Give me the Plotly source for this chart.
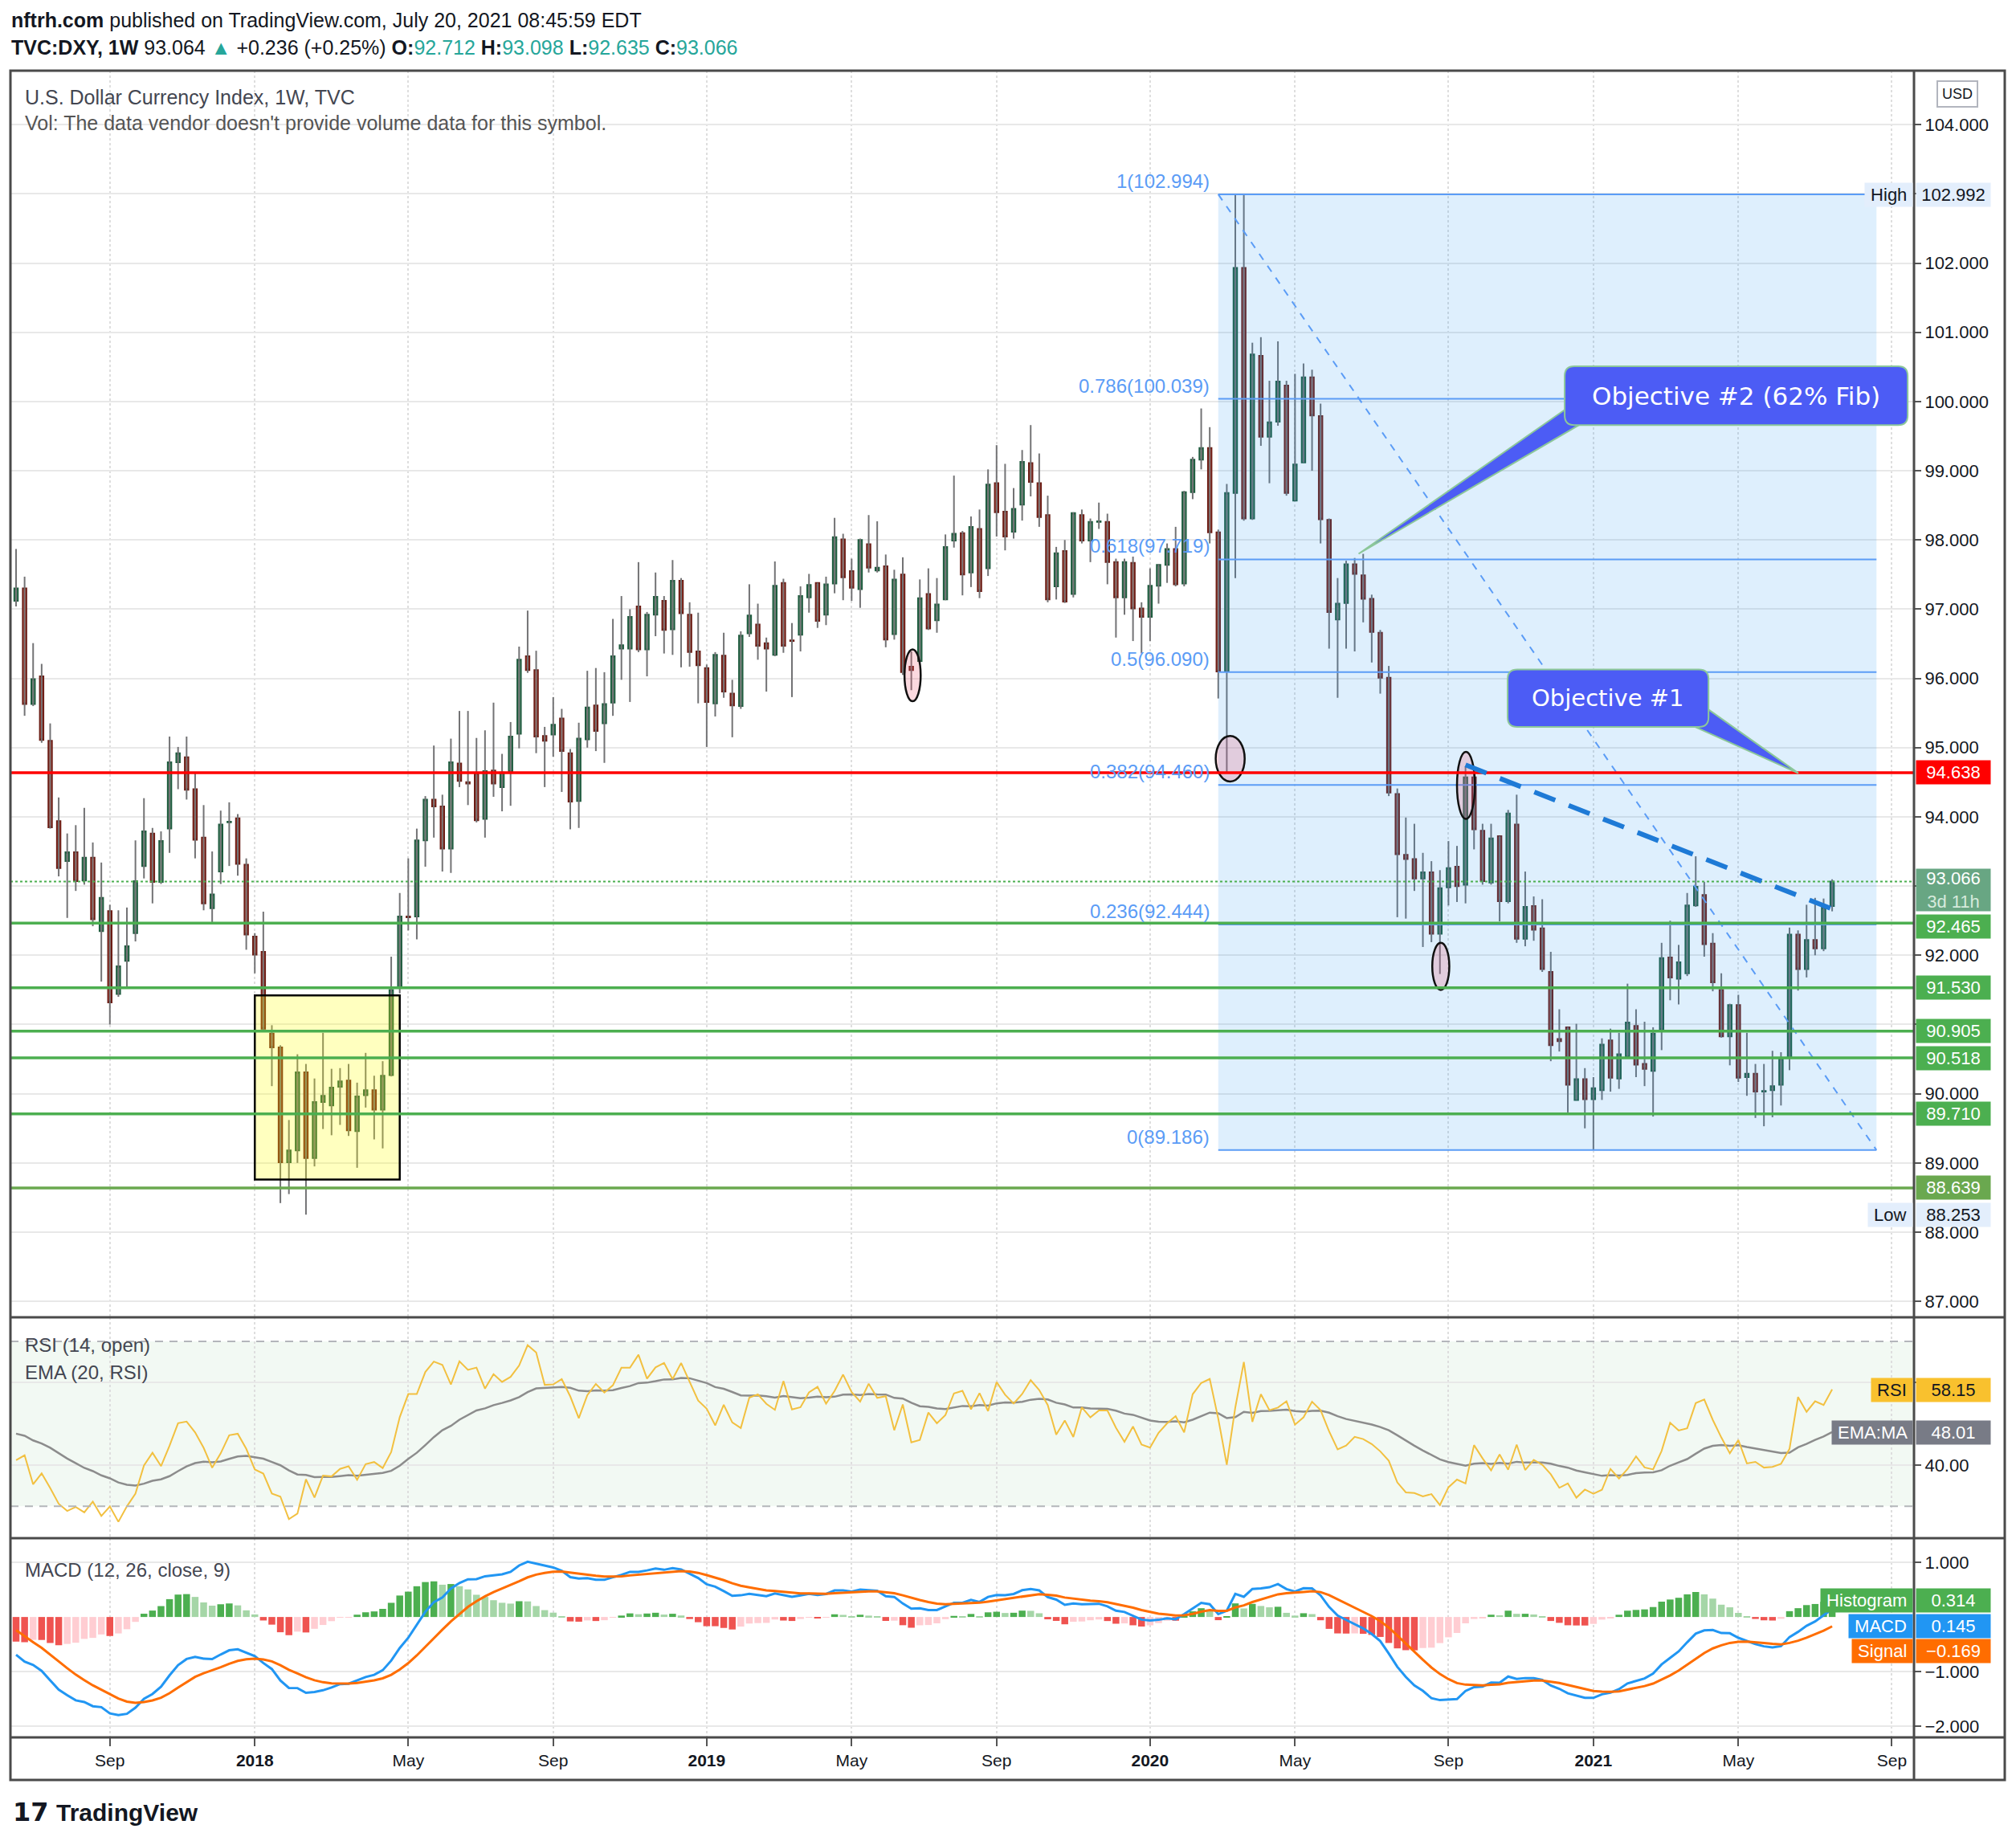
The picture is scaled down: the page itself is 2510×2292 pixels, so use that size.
import numpy as np
import plotly.graph_objects as go
from plotly.subplots import make_subplots

# ---------------------------------------------------------------------------
# Weekly DXY candles (TVC:DXY, 1W), bar 1 = week of 2017-06-19
# ---------------------------------------------------------------------------
opens = [
    97.12, 97.30, 95.63, 96.03, 95.10, 93.94, 93.36, 93.49, 93.08, 93.41,
    92.35, 92.64, 91.44, 91.92, 92.32, 93.29, 93.76, 93.06, 93.83, 94.79,
    94.86, 94.40, 93.70, 92.68, 93.21, 93.92, 93.98, 93.31, 92.27, 92.05,
    90.87, 90.67, 89.01, 89.18, 90.31, 89.07, 89.88, 89.83, 90.10, 90.19,
    89.46, 89.98, 90.05, 89.77, 90.27, 91.53, 92.56, 92.56, 93.66, 94.25,
    94.15, 93.54, 94.77, 94.50, 94.62, 93.97, 94.67, 94.43, 94.66, 95.20,
    96.32, 96.12, 95.17, 95.19, 95.42, 94.92, 94.23, 95.12, 95.61, 95.35,
    95.65, 96.43, 96.43, 97.04, 96.42, 96.92, 97.12, 96.71, 97.41, 96.92,
    96.39, 96.15, 95.64, 96.33, 95.78, 95.60, 96.65, 96.78, 96.51, 96.34,
    97.38, 96.55, 96.63, 97.17, 97.38, 96.92, 97.37, 98.01, 97.55, 97.29,
    97.94, 97.56, 97.62, 96.64, 97.50, 96.17, 96.25, 97.22, 96.84, 97.14,
    97.99, 98.10, 97.53, 98.16, 97.59, 98.82, 98.41, 98.12, 98.51, 99.11,
    98.82, 98.36, 97.33, 97.84, 97.22, 98.36, 97.99, 98.26, 98.26, 97.68,
    97.17, 97.67, 97.01, 96.89, 97.34, 97.64, 97.87, 97.37, 98.69, 99.16,
    99.33, 98.11, 96.10, 98.68, 101.93, 98.31, 100.66, 99.49, 99.71, 100.23,
    98.57, 99.12, 100.35, 99.79, 98.29, 96.85, 97.09, 97.65, 97.49, 97.15,
    96.66, 96.01, 94.33, 93.45, 93.39, 93.11, 93.20, 92.31, 92.98, 93.28,
    93.02, 94.57, 93.80, 93.05, 93.72, 92.78, 93.89, 92.24, 92.71, 92.39,
    91.76, 90.79, 90.96, 89.91, 90.21, 89.92, 90.05, 90.77, 90.22, 90.54,
    90.98, 90.43, 90.33, 90.93, 91.97, 91.66, 91.74, 92.72, 92.87, 92.17,
    91.50, 90.83, 91.28, 90.24, 90.29, 90.03, 90.05, 90.13, 90.53, 92.30,
    91.80, 92.22, 92.10, 92.712,
]
highs = [
    97.87, 97.47, 96.51, 96.21, 95.35, 94.28, 93.76, 93.88, 94.13, 93.63,
    93.34, 92.73, 92.65, 92.69, 93.66, 94.27, 93.84, 93.79, 95.16, 95.01,
    95.16, 94.64, 94.17, 93.50, 94.09, 94.21, 94.04, 93.40, 92.32, 92.63,
    90.99, 90.70, 89.62, 90.57, 90.43, 90.22, 90.88, 90.36, 90.37, 90.43,
    90.16, 90.59, 90.26, 90.47, 91.98, 92.90, 93.40, 93.83, 94.30, 95.03,
    94.32, 95.13, 95.53, 95.53, 95.14, 95.25, 95.65, 94.91, 95.37, 96.46,
    96.98, 96.40, 95.30, 95.73, 95.56, 94.98, 95.36, 96.11, 96.15, 96.09,
    96.86, 97.19, 97.00, 97.68, 96.96, 97.53, 97.19, 97.71, 97.45, 97.10,
    96.95, 96.20, 96.38, 96.66, 95.98, 96.68, 97.36, 97.08, 96.59, 97.69,
    97.44, 96.80, 97.33, 97.51, 97.38, 97.47, 98.32, 98.09, 97.73, 98.02,
    98.36, 98.27, 97.79, 97.57, 97.75, 96.39, 97.43, 97.59, 97.45, 98.08,
    98.93, 98.13, 98.34, 98.44, 99.02, 99.37, 99.10, 98.75, 99.30, 99.66,
    99.25, 98.64, 97.90, 98.00, 98.40, 98.44, 98.31, 98.54, 98.38, 97.73,
    97.73, 97.76, 97.10, 97.59, 97.65, 97.95, 98.19, 98.71, 99.20, 99.90,
    99.63, 98.15, 98.81, 102.99, 102.992, 100.85, 100.93, 100.30, 100.87, 100.30,
    100.40, 100.55, 100.46, 99.97, 98.31, 97.45, 97.70, 97.74, 97.80, 97.21,
    96.70, 96.18, 94.41, 93.99, 93.90, 93.48, 93.36, 93.23, 93.65, 93.58,
    94.73, 94.66, 93.90, 93.90, 93.72, 94.10, 94.32, 93.21, 92.85, 92.81,
    92.05, 91.22, 90.96, 91.01, 90.37, 90.24, 90.80, 90.94, 90.88, 91.59,
    91.22, 91.04, 90.96, 92.18, 92.50, 92.15, 92.90, 93.43, 93.06, 92.32,
    91.74, 91.30, 91.43, 90.88, 90.43, 90.43, 90.62, 90.60, 92.40, 92.36,
    92.73, 92.83, 92.82, 93.098,
]
lows = [
    97.04, 95.46, 95.60, 95.07, 93.83, 93.14, 92.54, 92.93, 93.02, 92.42,
    91.62, 91.00, 91.40, 91.55, 92.20, 93.11, 92.75, 93.03, 93.48, 94.40,
    94.25, 93.40, 92.65, 92.48, 93.03, 93.29, 93.15, 92.08, 91.74, 90.90,
    90.11, 88.42, 88.55, 89.00, 88.253, 88.95, 89.49, 89.40, 89.55, 89.39,
    88.93, 89.80, 89.34, 89.21, 90.25, 91.45, 92.36, 92.23, 93.28, 93.70,
    93.21, 93.19, 94.43, 94.17, 93.92, 93.70, 94.29, 94.08, 94.16, 94.99,
    96.08, 94.92, 94.43, 94.87, 94.36, 93.82, 93.84, 95.00, 94.95, 94.78,
    95.46, 95.98, 95.66, 96.38, 96.03, 96.61, 96.36, 96.34, 96.16, 96.17,
    95.64, 95.01, 95.45, 95.72, 95.15, 95.56, 96.60, 96.27, 95.81, 96.32,
    96.37, 95.73, 96.39, 96.95, 96.73, 96.77, 97.23, 97.13, 97.12, 97.02,
    97.53, 97.53, 96.45, 96.56, 96.05, 95.83, 96.22, 96.70, 96.66, 97.13,
    97.89, 97.20, 97.32, 97.16, 97.48, 98.05, 97.85, 98.02, 98.28, 98.63,
    98.19, 97.10, 97.14, 97.09, 97.17, 97.95, 97.68, 98.16, 97.36, 96.59,
    96.92, 96.54, 96.36, 96.54, 97.08, 97.38, 97.33, 97.33, 98.59, 99.02,
    97.95, 95.71, 94.65, 97.45, 98.28, 98.29, 99.36, 98.82, 99.65, 98.64,
    98.57, 99.12, 99.00, 97.95, 96.43, 95.72, 96.43, 96.39, 96.81, 96.23,
    95.78, 94.30, 92.55, 92.53, 92.93, 92.12, 92.19, 91.73, 92.72, 92.77,
    92.75, 93.53, 93.02, 93.02, 92.49, 92.75, 92.18, 92.13, 92.21, 91.76,
    90.47, 90.61, 89.73, 89.91, 89.50, 89.19, 89.91, 90.03, 90.07, 90.54,
    90.24, 90.11, 89.67, 90.63, 91.35, 91.29, 91.70, 92.70, 91.98, 91.48,
    90.81, 90.41, 90.17, 89.97, 89.65, 89.53, 89.66, 89.83, 90.34, 91.49,
    91.68, 92.00, 92.06, 92.635,
]
closes = [
    97.30, 95.63, 95.99, 95.11, 93.85, 93.26, 93.49, 93.07, 93.41, 92.52,
    92.83, 91.32, 91.84, 92.13, 93.07, 93.79, 93.06, 93.65, 94.79, 94.92,
    94.39, 93.67, 92.75, 92.88, 93.89, 93.93, 93.32, 92.30, 92.01, 90.94,
    90.67, 89.01, 89.18, 90.31, 89.07, 89.88, 89.97, 90.09, 90.18, 89.47,
    89.96, 90.05, 89.77, 90.26, 91.50, 92.56, 92.55, 93.66, 94.25, 94.15,
    93.54, 94.79, 94.52, 94.48, 93.95, 94.66, 94.48, 94.64, 95.16, 96.27,
    96.12, 95.16, 95.10, 95.33, 94.95, 94.22, 95.13, 95.58, 95.24, 95.63,
    96.32, 96.48, 96.89, 96.42, 96.92, 97.18, 96.70, 97.41, 96.94, 96.38,
    96.19, 95.66, 96.34, 95.81, 95.61, 96.62, 96.91, 96.47, 96.43, 97.34,
    96.47, 96.54, 97.19, 97.35, 96.83, 97.36, 98.04, 97.46, 97.31, 98.00,
    97.60, 97.60, 96.56, 97.43, 96.09, 96.12, 97.16, 96.72, 97.07, 97.90,
    98.09, 97.50, 98.19, 97.26, 98.80, 98.40, 98.05, 98.45, 99.13, 98.84,
    98.33, 97.14, 97.81, 97.11, 98.39, 97.99, 98.26, 98.27, 97.68, 97.17,
    97.68, 97.01, 96.89, 97.34, 97.64, 97.87, 97.36, 98.69, 99.16, 99.33,
    98.11, 96.10, 98.68, 101.93, 98.31, 100.68, 99.49, 99.70, 100.29, 98.68,
    99.09, 100.35, 99.80, 98.30, 96.96, 97.08, 97.65, 97.51, 97.15, 96.67,
    96.01, 94.35, 93.46, 93.39, 93.11, 93.20, 92.31, 92.97, 93.26, 93.00,
    94.57, 93.82, 93.07, 93.69, 92.78, 94.05, 92.24, 92.70, 92.37, 91.80,
    90.70, 90.76, 90.13, 90.21, 89.92, 90.08, 90.71, 90.23, 90.57, 91.03,
    90.42, 90.36, 90.87, 91.96, 91.68, 91.90, 92.72, 92.99, 92.16, 91.61,
    90.83, 91.28, 90.23, 90.29, 90.03, 90.04, 90.11, 90.51, 92.30, 91.80,
    92.22, 92.10, 92.69, 93.066,
]
bars = list(range(1, len(closes) + 1))

# time axis: bar number of the first weekly bar in each labelled month
tick_bars = [12, 29, 47, 64, 82, 99, 116, 134, 151, 169, 186, 203, 221]
tick_text = ["Sep", "<b>2018</b>", "May", "Sep", "<b>2019</b>", "May", "Sep",
             "<b>2020</b>", "May", "Sep", "<b>2021</b>", "May", "Sep"]

# price axis: whole numbers; the ones covered by the value tags stay unlabelled
price_ticks = list(range(87, 105))
covered_price_ticks = [91, 93, 103]

# drawn levels
resistance_level = 94.638
support_levels = [92.465, 91.530, 90.905, 90.518, 89.710, 88.639]
support_colors = ["#4caf50", "#4caf50", "#4caf50", "#4caf50", "#4caf50", "#6aa84f"]
fib_prices = [102.994, 100.039, 97.719, 96.090, 94.460, 92.444, 89.186]
fib_labels = ["1(102.994)", "0.786(100.039)", "0.618(97.719)", "0.5(96.090)",
              "0.382(94.460)", "0.236(92.444)", "0(89.186)"]
last_price = 93.066

rsi_gain_seed, rsi_loss_seed = 0.28, 0.40
rsi_ema_seed = 47.6
ema_fast_seed, ema_slow_seed, signal_seed = 97.85, 98.54, -0.24

# ---------------------------------------------------------------------------
# Geometry of the 2510 x 2292 screenshot (pixels)
# ---------------------------------------------------------------------------
W, H = 2510, 2292
PLOT_L, PLOT_R = 13, 2383
FRAME_R, FRAME_B = 2496, 2216
PRICE_T, PRICE_B = 88, 1640
RSI_B = 1915
MACD_B = 2163
X_RANGE = [0.34, 223.6]
BAR_PX = 10.615          # pixels per weekly bar
PRICE_PX = 86.2          # pixels per 1.0 of price


def px(x):
    return x / W


def py(y):
    return 1 - y / H


# ---------------------------------------------------------------------------
# Indicators
# ---------------------------------------------------------------------------
def ema_series(values, n, seed):
    k = 2.0 / (n + 1)
    out = [seed]
    for v in values[1:]:
        out.append(out[-1] + k * (v - out[-1]))
    return np.array(out)


def rsi_series(src, n, gain_seed, loss_seed):
    g, l = gain_seed, loss_seed
    out = [100 * g / (g + l)]
    for i in range(1, len(src)):
        d = src[i] - src[i - 1]
        g = (g * (n - 1) + max(d, 0)) / n
        l = (l * (n - 1) + max(-d, 0)) / n
        out.append(100 * g / (g + l))
    return np.array(out)


rsi = rsi_series(opens, 14, rsi_gain_seed, rsi_loss_seed)
rsi_ema = ema_series(list(rsi), 20, rsi_ema_seed)

ema_fast = [ema_fast_seed]
ema_slow = [ema_slow_seed]
for c in closes[1:]:
    ema_fast.append(ema_fast[-1] + 2 / 13 * (c - ema_fast[-1]))
    ema_slow.append(ema_slow[-1] + 2 / 27 * (c - ema_slow[-1]))
macd = np.array(ema_fast) - np.array(ema_slow)
signal = ema_series(list(macd), 9, signal_seed)
hist = macd - signal

hist_colors = []
for i, h in enumerate(hist):
    prev = hist[i - 1] if i else h + 0.01
    if h >= 0:
        hist_colors.append("#4caf50" if h > prev else "#a5d6a7")
    else:
        hist_colors.append("#ffcdd2" if h > prev else "#ef5350")

# ---------------------------------------------------------------------------
# Figure
# ---------------------------------------------------------------------------
fig = make_subplots(rows=3, cols=1, shared_xaxes=True, vertical_spacing=0)

# wicks
wx, wy = [], []
for b, lo, hi in zip(bars, lows, highs):
    wx += [b, b, None]
    wy += [lo, hi, None]
fig.add_trace(go.Scatter(x=wx, y=wy, mode="lines", hoverinfo="skip",
                         line=dict(color="#737375", width=2), showlegend=False),
              row=1, col=1)

# bodies
body_hi = [max(o, c) for o, c in zip(opens, closes)]
body_lo = [min(o, c) for o, c in zip(opens, closes)]
fig.add_trace(go.Candlestick(
    x=bars, open=opens, high=body_hi, low=body_lo, close=closes,
    increasing=dict(fillcolor="#63a07c", line=dict(color="#1e5b3e", width=2)),
    decreasing=dict(fillcolor="#d95544", line=dict(color="#6b1d15", width=2)),
    showlegend=False), row=1, col=1)

# RSI pane
fig.add_trace(go.Scatter(x=bars, y=rsi_ema, mode="lines",
                         line=dict(color="#8c8c8c", width=2.5), showlegend=False),
              row=2, col=1)
fig.add_trace(go.Scatter(x=bars, y=rsi, mode="lines",
                         line=dict(color="#f2c040", width=2), showlegend=False),
              row=2, col=1)

# MACD pane
fig.add_trace(go.Bar(x=bars, y=hist, marker=dict(color=hist_colors, line=dict(width=0)),
                     showlegend=False), row=3, col=1)
fig.add_trace(go.Scatter(x=bars, y=macd, mode="lines",
                         line=dict(color="#2196f3", width=3), showlegend=False),
              row=3, col=1)
fig.add_trace(go.Scatter(x=bars, y=signal, mode="lines",
                         line=dict(color="#ff6d00", width=3), showlegend=False),
              row=3, col=1)

tick_font = dict(family="Liberation Sans", size=22, color="#131722")
grid = dict(gridcolor="#e8e8e8", gridwidth=2, zeroline=False, showline=False)
xgrid = dict(range=X_RANGE, tickvals=tick_bars, ticktext=tick_text,
             showgrid=True, gridcolor="#dedede", gridwidth=2, griddash="dot",
             zeroline=False, showline=False, domain=[px(PLOT_L), px(PLOT_R)])
price_text = ["" if t in covered_price_ticks else f"{t:.3f}" for t in price_ticks]

fig.update_layout(
    width=W, height=H, autosize=False,
    margin=dict(l=0, r=0, t=0, b=0),
    paper_bgcolor="white", plot_bgcolor="white",
    boxgap=0.4, bargap=0.2,
    showlegend=False,
    xaxis=dict(**xgrid, showticklabels=False, rangeslider=dict(visible=False)),
    xaxis2=dict(**xgrid, showticklabels=False),
    xaxis3=dict(**xgrid, ticks="outside", ticklen=10, tickwidth=2,
                tickcolor="#555", tickfont=dict(family="Liberation Sans", size=21,
                                                color="#131722")),
    yaxis=dict(**grid, domain=[py(PRICE_B), py(PRICE_T)], range=[86.77, 104.78],
               side="right", tickvals=price_ticks, ticktext=price_text,
               ticks="outside", ticklen=8, tickwidth=2, tickcolor="#555",
               tickfont=tick_font),
    # the 60 gridline stays, its label sits under the RSI tag on the original
    yaxis2=dict(**grid, domain=[py(RSI_B), py(PRICE_B)], range=[22.24, 75.85],
                side="right", tickvals=[40, 60], ticktext=["40.00", ""],
                ticks="outside", ticklen=8, tickwidth=2, tickcolor="#555",
                tickfont=tick_font),
    yaxis3=dict(**grid, domain=[py(MACD_B), py(RSI_B)], range=[-2.20, 1.44],
                side="right", tickvals=[1, -1, -2], tickformat=".3f",
                ticks="outside", ticklen=8, tickwidth=2, tickcolor="#555",
                tickfont=tick_font),
)

shapes = []

# RSI band and its dashed bounds
shapes.append(dict(type="rect", xref="x2 domain", yref="y2", x0=0, x1=1, y0=30, y1=70,
                   fillcolor="rgba(76,175,80,0.07)", line=dict(width=0), layer="below"))
for lvl in (30, 70):
    shapes.append(dict(type="line", xref="x2 domain", yref="y2", x0=0, x1=1,
                       y0=lvl, y1=lvl, line=dict(color="#b4b6bb", width=2, dash="10px,8px")))

# yellow consolidation box (2018 base)
shapes.append(dict(type="rect", xref="x", yref="y", x0=29, x1=46, y0=88.76, y1=91.42,
                   fillcolor="rgba(255,255,0,0.25)", line=dict(color="black", width=2.5),
                   layer="above"))

# fib retracement box
fib_x0, fib_x1 = 142, 219.2
shapes.append(dict(type="rect", xref="x", yref="y", x0=fib_x0, x1=fib_x1,
                   y0=fib_prices[-1], y1=fib_prices[0],
                   fillcolor="rgba(33,150,243,0.15)", line=dict(width=0), layer="above"))
for i, lvl in enumerate(fib_prices):
    x1 = 221.3 if i == 0 else fib_x1
    shapes.append(dict(type="line", xref="x", yref="y", x0=fib_x0, x1=x1, y0=lvl, y1=lvl,
                       line=dict(color="#5b9cf6", width=2), layer="above"))
shapes.append(dict(type="line", xref="x", yref="y", x0=fib_x0, x1=fib_x1,
                   y0=fib_prices[0], y1=fib_prices[-1],
                   line=dict(color="#5b9cf6", width=2, dash="9px,9px"), layer="above"))

# pink marker ellipses
for x0, x1, y0, y1 in [(105.2, 107.1, 95.67, 96.42), (141.7, 145.1, 94.51, 95.17),
                       (167.1, 169.1, 91.50, 92.18), (170.0, 172.1, 93.97, 94.94)]:
    shapes.append(dict(type="circle", xref="x", yref="y", x0=x0, x1=x1, y0=y0, y1=y1,
                       fillcolor="rgba(236,80,110,0.22)", line=dict(color="#111", width=2.5),
                       layer="above"))

# horizontal levels
shapes.append(dict(type="line", xref="x domain", yref="y", x0=0, x1=1,
                   y0=resistance_level, y1=resistance_level,
                   line=dict(color="#ff0000", width=3.5), layer="above"))
for lvl, col in zip(support_levels, support_colors):
    shapes.append(dict(type="line", xref="x domain", yref="y", x0=0, x1=1, y0=lvl, y1=lvl,
                       line=dict(color=col, width=3.5), layer="above"))
shapes.append(dict(type="line", xref="x domain", yref="y", x0=0, x1=1,
                   y0=last_price, y1=last_price,
                   line=dict(color="#4caf50", width=2, dash="dot"), layer="above"))

# thick dashed down-trend line
shapes.append(dict(type="line", xref="x", yref="y", x0=171.0, x1=214.2, y0=94.75, y1=92.66,
                   line=dict(color="#1e7ad6", width=6, dash="28px,18px"), layer="above"))


def rounded_box(x0, x1, y0, y1, r=12):
    rx, ry = r / BAR_PX, r / PRICE_PX
    return (f"M {x0 + rx},{y1} L {x1 - rx},{y1} Q {x1},{y1} {x1},{y1 - ry} "
            f"L {x1},{y0 + ry} Q {x1},{y0} {x1 - rx},{y0} L {x0 + rx},{y0} "
            f"Q {x0},{y0} {x0},{y0 + ry} L {x0},{y1 - ry} Q {x0},{y1} {x0 + rx},{y1} Z")


callout = dict(fillcolor="#4c5cf5", line=dict(color="#8cc79a", width=2), layer="above",
               xref="x", yref="y", type="path")
# Objective #2 box + tail
shapes.append(dict(**callout, path="M 182.63,99.88 L 158.46,97.80 L 184.3,99.66 Z"))
shapes.append(dict(**callout, path=rounded_box(182.63, 222.86, 99.66, 100.51)))
# Objective #1 box + tail
shapes.append(dict(**callout, path="M 199.5,95.55 L 210.04,94.63 L 197.9,95.30 Z"))
shapes.append(dict(**callout, path=rounded_box(175.94, 199.50, 95.30, 96.13)))

# frame, pane separators, price-axis line
frame = dict(color="#4a4a4a", width=3)
shapes.append(dict(type="rect", xref="paper", yref="paper", x0=px(PLOT_L), x1=px(FRAME_R),
                   y0=py(FRAME_B), y1=py(PRICE_T), line=frame))
for yy in (PRICE_B, RSI_B, MACD_B):
    shapes.append(dict(type="line", xref="paper", yref="paper", x0=px(PLOT_L), x1=px(FRAME_R),
                       y0=py(yy), y1=py(yy), line=frame))
shapes.append(dict(type="line", xref="paper", yref="paper", x0=px(PLOT_R), x1=px(PLOT_R),
                   y0=py(FRAME_B), y1=py(PRICE_T), line=frame))
fig.update_layout(shapes=shapes)

# ---------------------------------------------------------------------------
# Text
# ---------------------------------------------------------------------------
ann = []
TEAL = "#26a69a"


def text_at(x, y, text, size=23, color="#131722", family="Liberation Sans", **kw):
    ann.append(dict(xref="paper", yref="paper", x=px(x), y=py(y), text=text,
                    showarrow=False, xanchor=kw.pop("xanchor", "left"),
                    yanchor=kw.pop("yanchor", "middle"),
                    font=dict(family=family, size=size, color=color), **kw))


text_at(12, 25, "<b>nftrh.com</b> published on TradingView.com, July 20, 2021 08:45:59 EDT", 25)
text_at(12, 59, f"<b>TVC:DXY, 1W</b> 93.064 <span style='color:{TEAL}'>▲</span> +0.236 (+0.25%) "
                f"<b>O:</b><span style='color:{TEAL}'>92.712</span> "
                f"<b>H:</b><span style='color:{TEAL}'>93.098</span> "
                f"<b>L:</b><span style='color:{TEAL}'>92.635</span> "
                f"<b>C:</b><span style='color:{TEAL}'>93.066</span>", 25)
text_at(29, 121, "U.S. Dollar Currency Index, 1W, TVC", 25, "#434651")
text_at(29, 153, "Vol: The data vendor doesn't provide volume data for this symbol.", 25, "#555")
text_at(29, 1674, "RSI (14, open)", 24, "#434651")
text_at(29, 1708, "EMA (20, RSI)", 24, "#434651")
text_at(29, 1954, "MACD (12, 26, close, 9)", 24, "#434651")
text_at(14, 2256, "<b>17</b>", 32, "#131722", family="DejaVu Sans")
text_at(68, 2256, "<b>TradingView</b>", 30, "#131722")
text_at(2437, 117, "USD", 18, "#131722", xanchor="center", bordercolor="#b2b5be",
        borderwidth=2, borderpad=5, bgcolor="white")

# fib level labels
for lvl, lab in zip(fib_prices, fib_labels):
    ann.append(dict(xref="x", yref="y", x=141.2, y=lvl, text=lab, showarrow=False,
                    xanchor="right", yanchor="bottom", yshift=1,
                    font=dict(family="Liberation Sans", size=24, color="#5b9cf6")))

# callout texts
for x, y, t, s in [(202.7, 100.085, "Objective #2 (62% Fib)", 31),
                   (187.7, 95.715, "Objective #1", 29)]:
    ann.append(dict(xref="x", yref="y", x=x, y=y, text=t, showarrow=False,
                    font=dict(family="DejaVu Sans", size=s, color="white")))


def axis_tag(y, text, bg, fg="white", yref="y"):
    ann.append(dict(xref="paper", yref=yref, x=px(PLOT_R + 2), y=y, text=text,
                    showarrow=False, xanchor="left", yanchor="middle", align="center",
                    width=90, height=27, bgcolor=bg, borderpad=1,
                    font=dict(family="Liberation Sans", size=22, color=fg)))


def name_tag(y, text, bg, fg="white", yref="y"):
    ann.append(dict(xref="paper", yref=yref, x=px(PLOT_R - 1), y=y, text=text,
                    showarrow=False, xanchor="right", yanchor="middle",
                    height=27, bgcolor=bg, borderpad=1,
                    font=dict(family="Liberation Sans", size=22, color=fg)))


name_tag(102.992, " High ", "#e3eefc", "#131722")
axis_tag(102.992, "102.992", "#e3eefc", "#131722")
axis_tag(resistance_level, "94.638", "#ff0000")
ann.append(dict(xref="paper", yref="paper", x=px(PLOT_R + 2), y=py(1108), text=
                "93.066<br><span style='color:#d6eadc'>3d 11h</span>",
                showarrow=False, xanchor="left", yanchor="middle", align="center",
                width=90, height=50, bgcolor="#68a683", borderpad=1,
                font=dict(family="Liberation Sans", size=22, color="white")))
axis_tag(py(1153), "92.465", support_colors[0], yref="paper")
for lvl, col in zip(support_levels[1:], support_colors[1:]):
    axis_tag(lvl, f"{lvl:.3f}", col)
name_tag(88.253, " Low ", "#e3eefc", "#131722")
axis_tag(88.253, "88.253", "#e3eefc", "#131722")

# indicator tags (stacked as on the original)
name_tag(py(1731), " RSI ", "#f9c12e", "#131722", yref="paper")
axis_tag(py(1731), "58.15", "#f9c12e", "#131722", yref="paper")
name_tag(py(1783), " EMA:MA ", "#787b86", yref="paper")
axis_tag(py(1783), "48.01", "#787b86", yref="paper")
name_tag(py(1992), " Histogram ", "#4caf50", yref="paper")
axis_tag(py(1992), "0.314", "#4caf50", yref="paper")
name_tag(py(2024), " MACD ", "#2196f3", yref="paper")
axis_tag(py(2024), "0.145", "#2196f3", yref="paper")
name_tag(py(2055), " Signal ", "#ff6d00", yref="paper")
axis_tag(py(2055), "\u22120.169", "#ff6d00", yref="paper")

fig.update_layout(annotations=ann)

fig.write_html("out.html", config={"displayModeBar": False},
               post_script="document.body.style.margin='0';")
